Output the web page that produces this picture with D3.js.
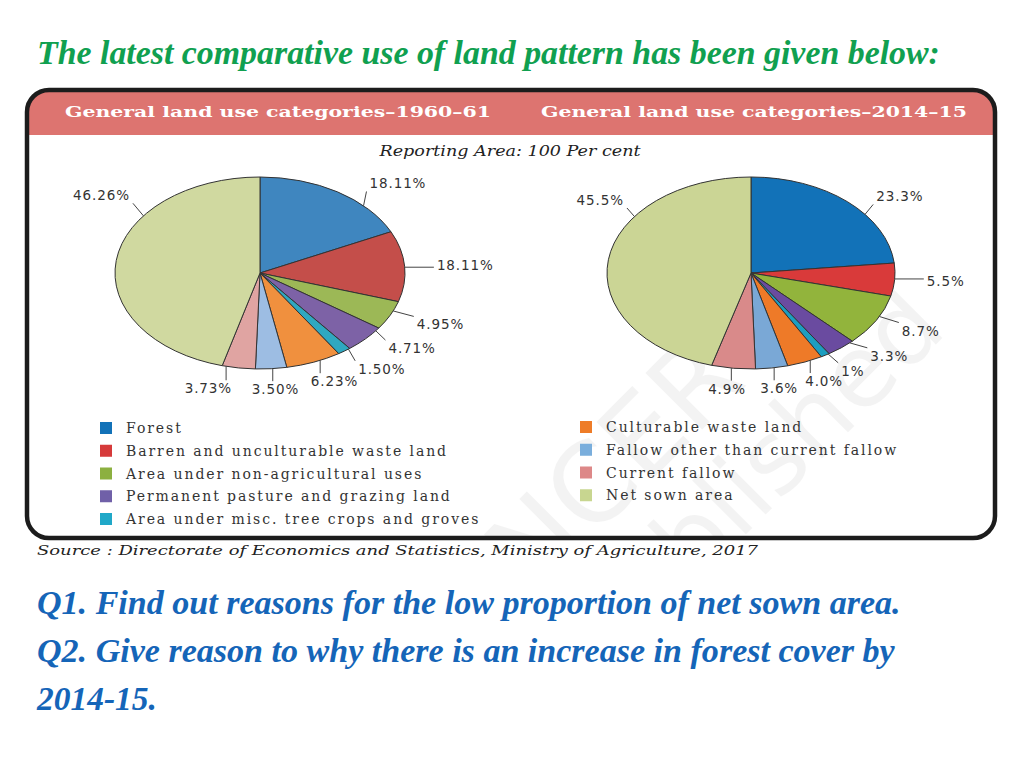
<!DOCTYPE html>
<html><head><meta charset="utf-8">
<script src="https://cdn.jsdelivr.net/npm/d3@7/dist/d3.min.js"></script>
<style>body{margin:0;background:#fff}svg{display:block}</style>
</head><body>
<svg id="chart" width="1024" height="768"></svg>
<script>
// ---------------- data ----------------
const categories = [
  "Forest",
  "Barren and unculturable waste land",
  "Area under non-agricultural uses",
  "Permanent pasture and grazing land",
  "Area under misc. tree crops and groves",
  "Culturable waste land",
  "Fallow other than current fallow",
  "Current fallow",
  "Net sown area"
];
// slice sizes as drawn (the 2nd slice of 1960-61 is drawn ~12% although printed "18.11%")
const values1960 = [18.11, 12.01, 4.95, 4.71, 1.50, 6.23, 3.50, 3.73, 46.26];
const labels1960 = ["18.11%", "18.11%", "4.95%", "4.71%", "1.50%", "6.23%", "3.50%", "3.73%", "46.26%"];
const values2014 = [23.3, 5.5, 8.7, 3.3, 1, 4.0, 3.6, 4.9, 45.5];
const labels2014 = ["23.3%", "5.5%", "8.7%", "3.3%", "1%", "4.0%", "3.6%", "4.9%", "45.5%"];
const panelTitles = ["General land use categories\u20131960\u201361", "General land use categories\u20132014\u201315"];
const subtitle = "Reporting Area: 100 Per cent";
const sourceNote = "Source : Directorate of Economics and Statistics, Ministry of Agriculture, 2017";
const slideTitle = "The latest comparative use of land pattern has been given below:";
const questions = ["Q1. Find out reasons for the low proportion of net sown area.",
                   "Q2. Give reason to why there is an increase in forest cover by",
                   "2014-15."];

// ---------------- styles / layout ----------------
const colors1960 = ["#3f86bf","#c44e4a","#9cb856","#7d62a6","#2fa8c0","#f0903e","#9dbde3","#e0a4a2","#d0d9a0"];
const colors2014 = ["#1272b8","#d93a3a","#92b43c","#6a4ba0","#1c9ec0","#ee7a28","#7aa8d6","#d98a8a","#cbd595"];
const legendColors = ["#1272b8","#d63a3a","#8cb040","#7060a8","#20a8c8","#ee7c28","#7aaedc","#dd8888","#c8d690"];
// manual label nudges (like dragged data labels in the original)
const nudge1960 = {0: [28, 9], 3: [6, -5], 4: [5, 1], 7: [-22, 0], 8: [-10, 3]};
const nudge2014 = {0: [15, 10], 3: [16, -8], 4: [5, -2], 8: [-7, 8]};

const SERIF_TNR = "'Liberation Serif', 'Times New Roman', Times, serif";
const SERIF_WIDE = "'DejaVu Serif', serif";
const SANS = "'DejaVu Sans', Verdana, sans-serif";

const svg = d3.select("#chart");

// text whose font size is chosen so that its natural width equals `width`
function fitText(sel, str, width) {
  sel.attr("font-size", 30).text(str);
  const w = sel.node().getComputedTextLength();
  sel.attr("font-size", 30 * width / w);
  return sel;
}

// ---------------- slide title ----------------
fitText(svg.append("text").attr("x", 37).attr("y", 64)
  .style("font-family", SERIF_TNR)
  .attr("font-weight", "bold").attr("font-style", "italic")
  .attr("fill", "#10a050"), slideTitle, 903);

// ---------------- frame ----------------
const fx = 27, fy = 90, fw = 968, fh = 448, fr = 22;
svg.append("defs").append("clipPath").attr("id", "frameClip")
  .append("rect").attr("x", fx).attr("y", fy).attr("width", fw).attr("height", fh).attr("rx", fr);
const inner = svg.append("g").attr("clip-path", "url(#frameClip)");
inner.append("rect").attr("x", fx).attr("y", fy).attr("width", fw).attr("height", fh).attr("fill", "#fff");
inner.append("rect").attr("x", fx).attr("y", fy).attr("width", fw).attr("height", 45).attr("fill", "#dd7470");

// watermark (very faint)
const wm = inner.append("g").attr("transform", "translate(690,470) rotate(-45)")
  .style("font-family", SANS).attr("fill", "#000").attr("opacity", 0.045)
  .attr("text-anchor", "middle");
wm.append("text").attr("x", -20).attr("y", -20).attr("font-size", 110).text("NCERT");
wm.append("text").attr("x", 40).attr("y", 85).attr("font-size", 100).text("Published");

svg.append("rect").attr("x", fx).attr("y", fy).attr("width", fw).attr("height", fh).attr("rx", fr)
  .attr("fill", "none").attr("stroke", "#1c1c1c").attr("stroke-width", 4.5);

// panel titles
[65, 541].forEach((x, i) => {
  svg.append("text").attr("x", x).attr("y", 117)
    .style("font-family", SERIF_WIDE).attr("font-weight", "bold")
    .attr("font-size", 15.5).attr("fill", "#fff")
    .attr("textLength", 426).attr("lengthAdjust", "spacingAndGlyphs")
    .text(panelTitles[i]);
});

svg.append("text").attr("x", 510).attr("y", 156).attr("text-anchor", "middle")
  .style("font-family", SERIF_WIDE).attr("font-style", "italic")
  .attr("font-size", 14).attr("fill", "#222")
  .attr("textLength", 261).attr("lengthAdjust", "spacingAndGlyphs")
  .text(subtitle);

// ---------------- pies ----------------
function drawPie(values, labels, colors, nudge, cx, cy, rx, ry) {
  const pie = d3.pie().sort(null).value(d => d).startAngle(0).endAngle(2 * Math.PI);
  const arcs = pie(values);
  const arc = d3.arc().innerRadius(0).outerRadius(rx);
  const g = svg.append("g").attr("transform", `translate(${cx},${cy}) scale(1,${ry / rx})`);
  g.selectAll("path").data(arcs).join("path")
    .attr("d", arc)
    .attr("fill", (d, i) => colors[i])
    .attr("stroke", "#333").attr("stroke-width", 1)
    .attr("vector-effect", "non-scaling-stroke");

  const pt = (a, k) => [cx + rx * k * Math.sin(a), cy - ry * k * Math.cos(a)];
  const lg = svg.append("g");
  arcs.forEach((d, i) => {
    const span = d.endAngle - d.startAngle;
    const a = span > 2 ? d.startAngle + 0.72 * span : (d.startAngle + d.endAngle) / 2;
    const p1 = pt(a, 1.12);
    const t = lg.append("text")
      .style("font-family", SANS).attr("font-size", 13.5)
      .attr("letter-spacing", 0.9).attr("fill", "#333")
      .attr("text-anchor", "middle").attr("dominant-baseline", "central")
      .text(labels[i]);
    const w = t.node().getComputedTextLength();
    const s = Math.sin(a), c = Math.cos(a);
    const nd = nudge[i] || [0, 0];
    const tx = p1[0] + s * (w / 2 + 15) + nd[0];
    const ty = p1[1] - c * 9 + nd[1];
    t.attr("x", tx).attr("y", ty);
    // leader: from slice edge (towards the label) to nearest point of label box
    let la = Math.atan2((tx - cx) / rx, -(ty - cy) / ry);
    if (la < 0) la += 2 * Math.PI;
    const m = Math.min(0.12 * span, 0.06);
    la = Math.max(d.startAngle + m, Math.min(d.endAngle - m, la));
    const e = pt(la, 1.0);
    const bx0 = tx - w / 2 - 3, bx1 = tx + w / 2 + 3, by0 = ty - 8, by1 = ty + 8;
    const q = [Math.max(bx0, Math.min(bx1, e[0])), Math.max(by0, Math.min(by1, e[1]))];
    lg.insert("line", "text").attr("x1", e[0]).attr("y1", e[1]).attr("x2", q[0]).attr("y2", q[1])
      .attr("stroke", "#444").attr("stroke-width", 1);
  });
}
drawPie(values1960, labels1960, colors1960, nudge1960, 260, 273, 145, 96);
drawPie(values2014, labels2014, colors2014, nudge2014, 751, 273, 144, 96);

// ---------------- legend ----------------
const legend = svg.append("g");
const legendFont = 14;
const probe = legend.append("text").style("font-family", SERIF_WIDE).attr("font-size", legendFont)
  .text(categories[1]);
const ls = Math.max(0, (322 - probe.node().getComputedTextLength()) / categories[1].length);
probe.remove();
categories.forEach((c, i) => {
  const col = i < 5 ? 0 : 1;
  const row = col === 0 ? i : i - 5;
  const x = col === 0 ? 100 : 580;
  const y = (col === 0 ? 428 : 427) + row * 22.75;
  legend.append("rect").attr("x", x).attr("y", y - 6).attr("width", 12).attr("height", 12)
    .attr("fill", legendColors[i]);
  legend.append("text").attr("x", x + 26).attr("y", y).attr("dominant-baseline", "central")
    .style("font-family", SERIF_WIDE).attr("font-size", legendFont)
    .attr("letter-spacing", ls).attr("fill", "#333").text(c);
});

// ---------------- source ----------------
svg.append("text").attr("x", 37).attr("y", 555)
  .style("font-family", SERIF_WIDE).attr("font-style", "italic")
  .attr("font-size", 13.5).attr("fill", "#222")
  .attr("textLength", 721).attr("lengthAdjust", "spacingAndGlyphs")
  .text(sourceNote);

// ---------------- questions ----------------
const qWidths = [864, 858, 120];
questions.forEach((q, i) => {
  fitText(svg.append("text").attr("x", 37).attr("y", 614 + i * 48)
    .style("font-family", SERIF_TNR)
    .attr("font-weight", "bold").attr("font-style", "italic")
    .attr("fill", "#1565b8"), q, qWidths[i]);
});
</script>
</body></html>
